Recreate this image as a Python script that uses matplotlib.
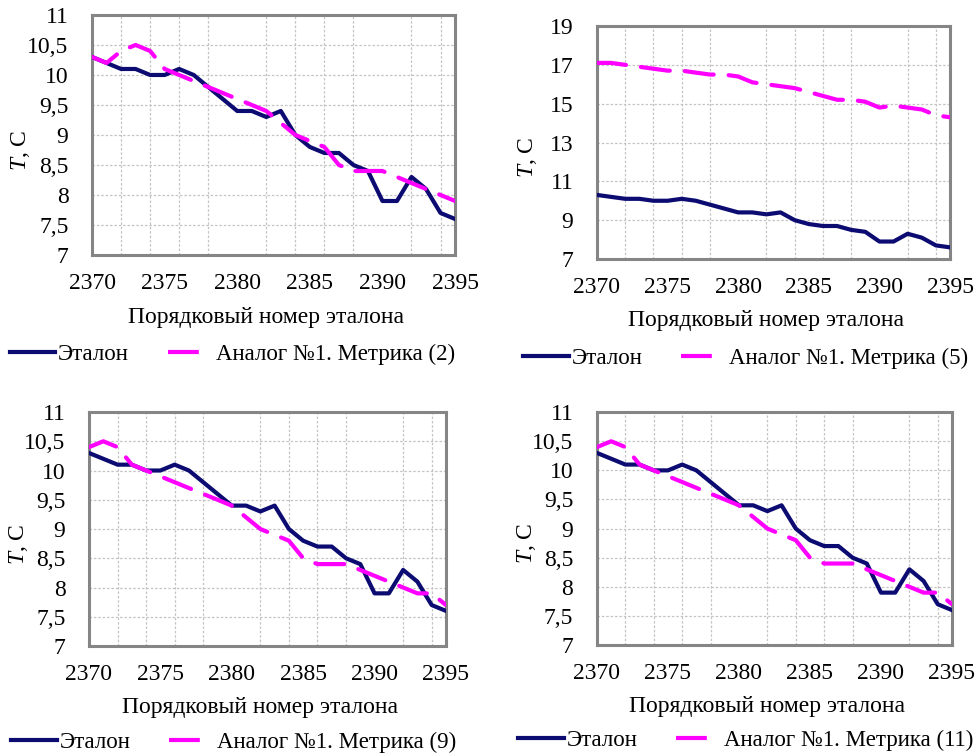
import numpy as np
import matplotlib
matplotlib.use('Agg')
import matplotlib.pyplot as plt
from matplotlib.lines import Line2D
from matplotlib.ticker import FixedLocator, FuncFormatter

plt.rcParams['font.family'] = ['Liberation Serif', 'DejaVu Serif']
plt.rcParams['mathtext.fontset'] = 'custom'
plt.rcParams['mathtext.rm'] = 'Liberation Serif'
plt.rcParams['mathtext.it'] = 'Liberation Serif:italic'

# -----data-----#
etalon_nums = list(range(2370, 2396))
etalon = [10.3, 10.2, 10.1, 10.1, 10.0, 10.0, 10.1, 10.0, 9.8, 9.6, 9.4, 9.4, 9.3,
          9.4, 9.0, 8.8, 8.7, 8.7, 8.5, 8.4, 7.9, 7.9, 8.3, 8.1, 7.7, 7.6]
analog_m2 = [10.3, 10.2, 10.4, 10.5, 10.4, 10.1, 10.0, 9.9, 9.8, 9.7, 9.6, 9.5, 9.4,
             9.2, 9.0, 8.9, 8.8, 8.5, 8.4, 8.4, 8.4, 8.3, 8.2, 8.1, 8.0, 7.9]
analog_m5 = [17.1, 17.1, 17.0, 16.9, 16.8, 16.7, 16.7, 16.6, 16.5, 16.5, 16.4, 16.1, 16.0,
             15.9, 15.8, 15.6, 15.4, 15.2, 15.2, 15.1, 14.8, 14.9, 14.8, 14.7, 14.4, 14.3]
analog_m9 = [10.4, 10.5, 10.4, 10.1, 10.0, 9.9, 9.8, 9.7, 9.6, 9.5, 9.4, 9.2, 9.0,
             8.9, 8.8, 8.5, 8.4, 8.4, 8.4, 8.3, 8.2, 8.1, 8.0, 7.9, 7.9, 7.7]
analog_m11 = [10.4, 10.5, 10.4, 10.1, 10.0, 9.9, 9.8, 9.7, 9.6, 9.5, 9.4, 9.2, 9.0,
              8.9, 8.8, 8.5, 8.4, 8.4, 8.4, 8.3, 8.2, 8.1, 8.0, 7.9, 7.9, 7.7]
metric_names = ['Аналог №1. Метрика (2)', 'Аналог №1. Метрика (5)',
                'Аналог №1. Метрика (9)', 'Аналог №1. Метрика (11)']
x_ticks = [2370, 2375, 2380, 2385, 2390, 2395]
y_ranges = [(7, 11, 0.5), (7, 19, 2), (7, 11, 0.5), (7, 11, 0.5)]

NAVY = '#0b0b72'
PINK = '#ff00ff'
FS = 17
FS_LEG = 16.5

fig = plt.figure(figsize=(9.78, 7.56), dpi=100)
rects = [
    [0.0941, 0.6627, 0.3712, 0.3175],
    [0.6104, 0.6574, 0.3610, 0.3082],
    [0.0910, 0.1455, 0.3650, 0.3095],
    [0.6104, 0.1468, 0.3630, 0.3080],
]
legend_pos = [(0.386, -0.415), (0.422, -0.425), (0.406, -0.41), (0.42, -0.41)]

series = [analog_m2, analog_m5, analog_m9, analog_m11]

comma = FuncFormatter(lambda v, p: f"{v:g}".replace('.', ','))

for rect, analog, name, (y0, y1, ystep), lpos in zip(rects, series, metric_names, y_ranges, legend_pos):
    ax = fig.add_axes(rect)
    ax.plot(etalon_nums, etalon, color=NAVY, lw=3, solid_joinstyle='round', zorder=3)
    ax.plot(etalon_nums, analog, color=PINK, lw=3, linestyle=(0, (7.0, 3.6)),
            dash_capstyle='round', zorder=4)

    ax.set_xlim(2370, 2395)
    ax.set_ylim(y0, y1)
    ax.xaxis.set_major_locator(FixedLocator(x_ticks))
    ax.xaxis.set_minor_locator(FixedLocator(list(range(2372, 2395, 2))))
    ax.yaxis.set_major_locator(FixedLocator(np.arange(y0, y1 + ystep / 2, ystep)))
    ax.yaxis.set_major_formatter(comma)
    ax.grid(which='minor', axis='x', color='#c4c4c4', lw=0.9, linestyle=(0, (2, 1.5)))
    ax.grid(which='major', axis='y', color='#c4c4c4', lw=0.9, linestyle=(0, (2, 1.5)))
    ax.tick_params(which='both', length=0, labelsize=FS)
    ax.tick_params(axis='y', pad=17)
    ax.tick_params(axis='x', pad=13)
    for s in ax.spines.values():
        s.set_color('#858585')
        s.set_linewidth(2.2)

    ax.set_xlabel('Порядковый номер эталона', fontsize=FS)
    ax.xaxis.set_label_coords(0.48, -0.262)
    ax.xaxis.label.set_va('center')
    ax.set_ylabel(r'$\mathit{T}$, C', fontsize=FS)
    ax.yaxis.set_label_coords(-0.198, 0.435)
    ax.yaxis.label.set_va('center')

    handles = [Line2D([], [], color=NAVY, lw=3),
               Line2D([], [], color=PINK, lw=3, linestyle=(0, (7.4, 5)))]
    ax.legend(handles, ['Эталон', name], loc='center', bbox_to_anchor=lpos,
              ncol=2, frameon=False, fontsize=FS_LEG, handlelength=2.0,
              handletextpad=0.1, columnspacing=1.7, borderpad=0, borderaxespad=0)

fig.savefig('out.png', dpi=100)
